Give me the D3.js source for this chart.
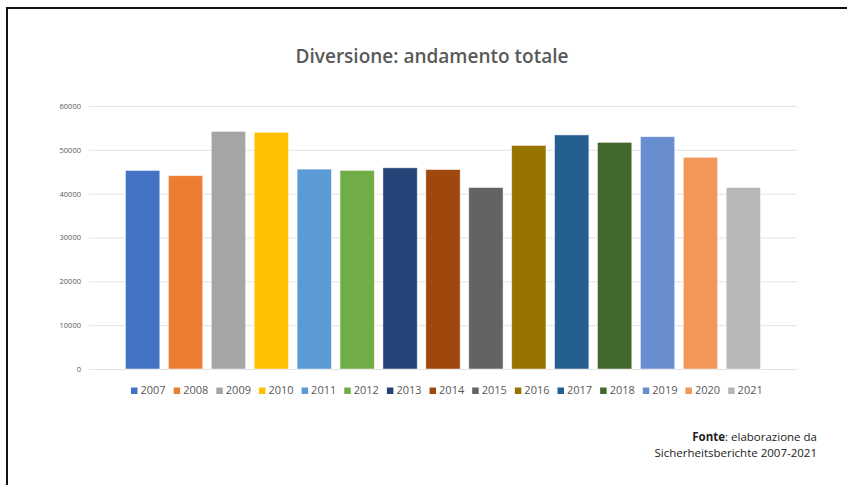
<!DOCTYPE html>
<html><head><meta charset="utf-8">
<script src="https://cdn.jsdelivr.net/npm/d3@7"></script>
<style>html,body{margin:0;padding:0;background:#fff;}svg{display:block;}</style>
</head><body>
<script>
const years = ["2007","2008","2009","2010","2011","2012","2013","2014","2015","2016","2017","2018","2019","2020","2021"];
const values = [45300,44100,54200,54000,45600,45300,45900,45500,41400,51000,53400,51700,53000,48300,41400];
const colors = ["#4472C4","#ED7D31","#A5A5A5","#FFC000","#5B9BD5","#70AD47","#264478","#9E480E","#636363","#997300","#255E91","#43682B","#698ED0","#F1975A","#B7B7B7"];
const yTicks = [0,10000,20000,30000,40000,50000,60000];
const title = "Diversione: andamento totale";
const sourceBold = "Fonte";
const sourceLine1 = ": elaborazione da";
const sourceLine2 = "Sicherheitsberichte 2007-2021";

const W = 847, H = 485;
const svg = d3.select("body").append("svg").attr("width", W).attr("height", H);
const font = "'Open Sans', 'Noto Sans', sans-serif";

// frame
svg.append("path").attr("d", `M7,${H+5} L7,8 L${W+5},8`).attr("fill","none").attr("stroke","#111").attr("stroke-width",2);

const x = d3.scaleBand().domain(years).range([89, 797]).paddingInner(0.2).paddingOuter(0.85);
const y = d3.scaleLinear().domain([0, 60000]).range([369, 106]);

// gridlines
const yAxis = d3.axisLeft(y).tickValues(yTicks).tickSize(-(797-89)).tickPadding(8).tickFormat(d3.format("d"));
const gy = svg.append("g").attr("transform","translate(89,0)").call(yAxis);
gy.select(".domain").remove();
gy.selectAll(".tick line").attr("stroke","#e3e3e3").attr("stroke-width",1);
gy.selectAll(".tick text").attr("fill","#595959").style("font-family",font).style("font-size","7.5px");

// bars
svg.append("g").selectAll("rect").data(values).join("rect")
  .attr("x",(d,i)=>x(years[i]))
  .attr("y",d=>y(d))
  .attr("width",x.bandwidth())
  .attr("height",d=>y(0)-y(d))
  .attr("fill",(d,i)=>colors[i])
  .attr("stroke","#fff").attr("stroke-opacity",0.6).attr("stroke-width",0.8);

// title
svg.append("text").attr("x",432).attr("y",63).attr("text-anchor","middle")
  .attr("fill","#595959").style("font-family",font).style("font-size","19px").style("font-weight","600")
  .text(title);

// legend
const lg = svg.append("g").selectAll("g").data(years).join("g")
  .attr("transform",(d,i)=>`translate(${131 + i*42.65},394)`);
lg.append("rect").attr("x",0).attr("y",-6.5).attr("width",6.5).attr("height",6.5).attr("fill",(d,i)=>colors[i]);
lg.append("text").attr("x",9.5).attr("y",0).attr("fill","#595959")
  .style("font-family",font).style("font-size","11px").text(d=>d);

// source
const s1 = svg.append("text").attr("x",817).attr("y",441).attr("text-anchor","end")
  .attr("fill","#222").style("font-family",font).style("font-size","11.5px");
s1.append("tspan").style("font-weight","bold").text(sourceBold);
s1.append("tspan").text(sourceLine1);
svg.append("text").attr("x",817).attr("y",457).attr("text-anchor","end")
  .attr("fill","#222").style("font-family",font).style("font-size","11.5px").text(sourceLine2);
</script>
</body></html>
